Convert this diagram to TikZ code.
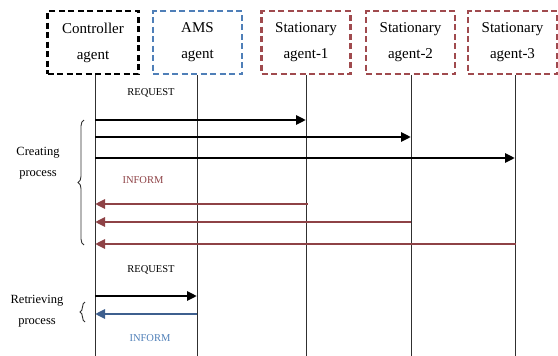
\documentclass[tikz,border=0pt]{standalone}
\usepackage{fontspec}
\setmainfont{Liberation Serif}
\usetikzlibrary{arrows.meta,decorations.pathreplacing}
\definecolor{amsblue}{HTML}{4F7FB8}
\definecolor{statred}{HTML}{A04A4E}
\definecolor{infred}{HTML}{8E4246}
\definecolor{infblue}{HTML}{3E5F8E}
\definecolor{lifegray}{HTML}{303030}
\tikzset{
  agentbox/.style={draw, line width=2.6pt, dash pattern=on 6pt off 3.5pt,
    minimum width=89pt, minimum height=63pt, inner sep=0pt, align=center,
    font=\fontsize{15}{26}\selectfont},
  lifeline/.style={draw=lifegray, line width=1pt},
  reqarrow/.style={draw=black, line width=2.8pt, -{Triangle[length=10pt,width=9pt]}},
  infarrow/.style={draw=infred, line width=2.8pt, -{Triangle[length=10pt,width=9pt]}},
  blarrow/.style={draw=infblue, line width=2.8pt, -{Triangle[length=10pt,width=9pt]}},
  msglabel/.style={font=\fontsize{10.5}{12}\selectfont, inner sep=0pt},
  sidelabel/.style={font=\fontsize{12.5}{21}\selectfont, align=center, inner sep=0pt},
  bracestyle/.style={draw=lifegray, line width=0.9pt,
    decorate, decoration={brace, amplitude=6pt}}
}
\begin{document}
\begin{tikzpicture}[x=1pt,y=-1pt]
\useasboundingbox (0,0) rectangle (558,356);
% agents
\node[agentbox, draw=black, minimum width=91pt] (ctl) at (93,42.5) {Controller\\agent};
\node[agentbox, draw=amsblue, line width=2.2pt] (ams) at (197.5,42.5) {AMS\\agent};
\node[agentbox, draw=statred, line width=2.2pt] (s1) at (306,42.5) {Stationary\\agent-1};
\node[agentbox, draw=statred, line width=2.2pt] (s2) at (410.5,42.5) {Stationary\\agent-2};
\node[agentbox, draw=statred, line width=2.2pt] (s3) at (512.5,42.5) {Stationary\\agent-3};
% lifeline ends
\coordinate (ctlEnd) at (95,356);
\coordinate (amsEnd) at (197,356);
\coordinate (s1End) at (306,356);
\coordinate (s2End) at (411,356);
\coordinate (s3End) at (515,356);
\draw[lifeline] (ctl.south -| ctlEnd) -- (ctlEnd);
\draw[lifeline] (ams.south -| amsEnd) -- (amsEnd);
\draw[lifeline] (s1.south -| s1End) -- (s1End);
\draw[lifeline] (s2.south -| s2End) -- (s2End);
\draw[lifeline] (s3.south -| s3End) -- (s3End);
% message points
\coordinate (c1) at (95,120); \coordinate (t1) at (306,120);
\coordinate (c2) at (95,137); \coordinate (t2) at (411,137);
\coordinate (c3) at (95,158); \coordinate (t3) at (515,158);
\coordinate (c4) at (95,204); \coordinate (t4) at (308,204);
\coordinate (c5) at (95,222); \coordinate (t5) at (411,222);
\coordinate (c6) at (95,244); \coordinate (t6) at (516,244);
\coordinate (c7) at (95,296); \coordinate (a7) at (197,296);
\coordinate (c8) at (95,314); \coordinate (a8) at (197,314);
% creating process
\node[msglabel] (req1) at (151,93) {REQUEST};
\draw[reqarrow] (c1) -- (t1);
\draw[reqarrow] (c2) -- (t2);
\draw[reqarrow] (c3) -- (t3);
\node[msglabel, text=infred] (inf1) at (143,180) {INFORM};
\draw[infarrow] (t4) -- (c4);
\draw[infarrow] (t5) -- (c5);
\draw[infarrow] (t6) -- (c6);
% retrieving process
\node[msglabel] (req2) at (151,270) {REQUEST};
\draw[reqarrow] (c7) -- (a7);
\draw[blarrow] (a8) -- (c8);
\node[msglabel, text=amsblue] (inf2) at (150,338) {INFORM};
% braces and side labels
\coordinate (b1top) at (84,120);
\coordinate (b1bot) at (84,245);
\draw[bracestyle] (b1bot) -- (b1top);
\node[sidelabel] (creating) at (38,163) {Creating\\process};
\coordinate (b2top) at (85,302);
\coordinate (b2bot) at (85,322);
\draw[bracestyle, decoration={brace, amplitude=5pt}] (b2bot) -- (b2top);
\node[sidelabel] (retrieving) at (37,311) {Retrieving\\process};
\end{tikzpicture}
\end{document}
